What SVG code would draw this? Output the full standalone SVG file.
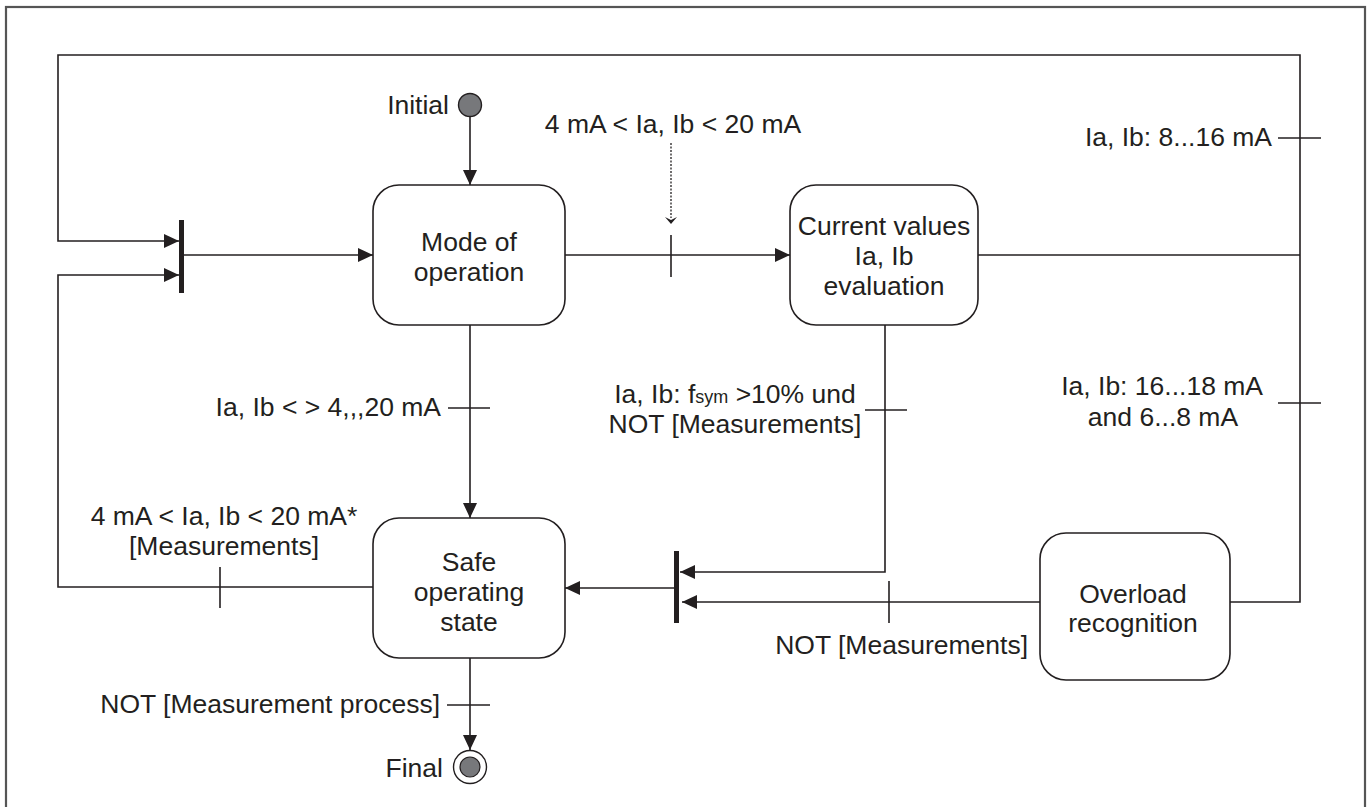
<svg xmlns="http://www.w3.org/2000/svg" width="1370" height="807" viewBox="0 0 1370 807">
<style>
.t{font-family:"Liberation Sans",Arial,sans-serif;font-size:26.5px;fill:#231f20}
.m{text-anchor:middle}
.e{text-anchor:end}
.box{fill:#fff;stroke:#231f20;stroke-width:1.6}
.ln{fill:none;stroke:#231f20;stroke-width:1.6}
.bar{fill:#231f20}
</style>
<defs>
<marker id="ah" markerUnits="userSpaceOnUse" markerWidth="16" markerHeight="16" refX="15" refY="7" orient="auto">
<path d="M0,0 L15,7 L0,14 z" fill="#231f20"/>
</marker>
</defs>
<rect x="6" y="7" width="1359" height="820" fill="none" stroke="#555" stroke-width="2.2"/>

<g id="connectors">
  <line class="ln" x1="470" y1="117" x2="470" y2="185" marker-end="url(#ah)"/>
  <polyline class="ln" points="1300,255 1300,55 58,55 58,241 179,241" marker-end="url(#ah)"/>
  <polyline class="ln" points="373,587 58,587 58,275 179,275" marker-end="url(#ah)"/>
  <line class="ln" x1="184" y1="255" x2="373" y2="255" marker-end="url(#ah)"/>
  <line class="ln" x1="565" y1="255" x2="790" y2="255" marker-end="url(#ah)"/>
  <line class="ln" x1="671" y1="235" x2="671" y2="277"/>
  <line x1="671" y1="143" x2="671" y2="218" stroke="#231f20" stroke-width="1.3" stroke-dasharray="2,1.5"/>
  <path d="M665,217 L671,220 L677,217 L671,224 z" fill="#231f20"/>
  <line class="ln" x1="978" y1="255" x2="1300" y2="255"/>
  <polyline class="ln" points="1300,255 1300,602 1230,602"/>
  <line class="ln" x1="1278" y1="138" x2="1321" y2="138"/>
  <line class="ln" x1="1278" y1="403" x2="1321" y2="403"/>
  <polyline class="ln" points="885,325 885,572 680,572" marker-end="url(#ah)"/>
  <line class="ln" x1="865" y1="410" x2="907" y2="410"/>
  <line class="ln" x1="1040" y1="602" x2="682" y2="602" marker-end="url(#ah)"/>
  <line class="ln" x1="889" y1="581" x2="889" y2="623"/>
  <line class="ln" x1="674" y1="588" x2="565" y2="588" marker-end="url(#ah)"/>
  <line class="ln" x1="470" y1="325" x2="470" y2="518" marker-end="url(#ah)"/>
  <line class="ln" x1="448" y1="408" x2="490" y2="408"/>
  <line class="ln" x1="220" y1="567" x2="220" y2="608"/>
  <line class="ln" x1="470" y1="658" x2="470" y2="750" marker-end="url(#ah)"/>
  <line class="ln" x1="447" y1="705" x2="490" y2="705"/>
</g>

<g id="initial">
  <circle cx="470" cy="105" r="11.5" fill="#77787b" stroke="#231f20" stroke-width="1.4"/>
  <text class="t e" x="449" y="114">Initial</text>
</g>

<g id="fork1">
  <rect class="bar" x="179" y="220" width="5" height="73"/>
</g>
<g id="fork2">
  <rect class="bar" x="674" y="551" width="5" height="72"/>
</g>

<g id="mode">
  <rect class="box" x="373" y="185" width="192" height="140" rx="26"/>
  <text class="t m" x="469" y="251">Mode of</text>
  <text class="t m" x="469" y="281">operation</text>
</g>

<g id="current">
  <rect class="box" x="790" y="185" width="188" height="140" rx="26"/>
  <text class="t m" x="884" y="235">Current values</text>
  <text class="t m" x="884" y="265">Ia, Ib</text>
  <text class="t m" x="884" y="295">evaluation</text>
</g>

<g id="safe">
  <rect class="box" x="373" y="518" width="192" height="140" rx="26"/>
  <text class="t m" x="469" y="571">Safe</text>
  <text class="t m" x="469" y="601">operating</text>
  <text class="t m" x="469" y="631">state</text>
</g>

<g id="overload">
  <rect class="box" x="1040" y="533" width="190" height="147" rx="26"/>
  <text class="t m" x="1133" y="603">Overload</text>
  <text class="t m" x="1133" y="632">recognition</text>
</g>

<g id="final">
  <circle cx="470" cy="767" r="16.5" fill="#fff" stroke="#231f20" stroke-width="1.4"/>
  <circle cx="470" cy="767" r="10" fill="#77787b" stroke="#231f20" stroke-width="1.2"/>
  <text class="t e" x="443" y="777">Final</text>
</g>

<g id="labels">
  <text class="t m" x="673" y="133">4 mA &lt; Ia, Ib &lt; 20 mA</text>
  <text class="t e" x="1272" y="146">Ia, Ib: 8...16 mA</text>
  <text class="t e" x="441" y="416">Ia, Ib &lt; &gt; 4,,,20 mA</text>
  <text class="t m" x="735" y="403">Ia, Ib: f<tspan font-size="18">sym</tspan> &gt;10% und</text>
  <text class="t m" x="735" y="433">NOT [Measurements]</text>
  <text class="t e" x="1263" y="395">Ia, Ib: 16...18 mA</text>
  <text class="t m" x="1163" y="426">and 6...8 mA</text>
  <text class="t m" x="224" y="525">4 mA &lt; Ia, Ib &lt; 20 mA*</text>
  <text class="t m" x="224" y="555">[Measurements]</text>
  <text class="t e" x="1028" y="654">NOT [Measurements]</text>
  <text class="t e" x="440" y="713">NOT [Measurement process]</text>
</g>
</svg>
